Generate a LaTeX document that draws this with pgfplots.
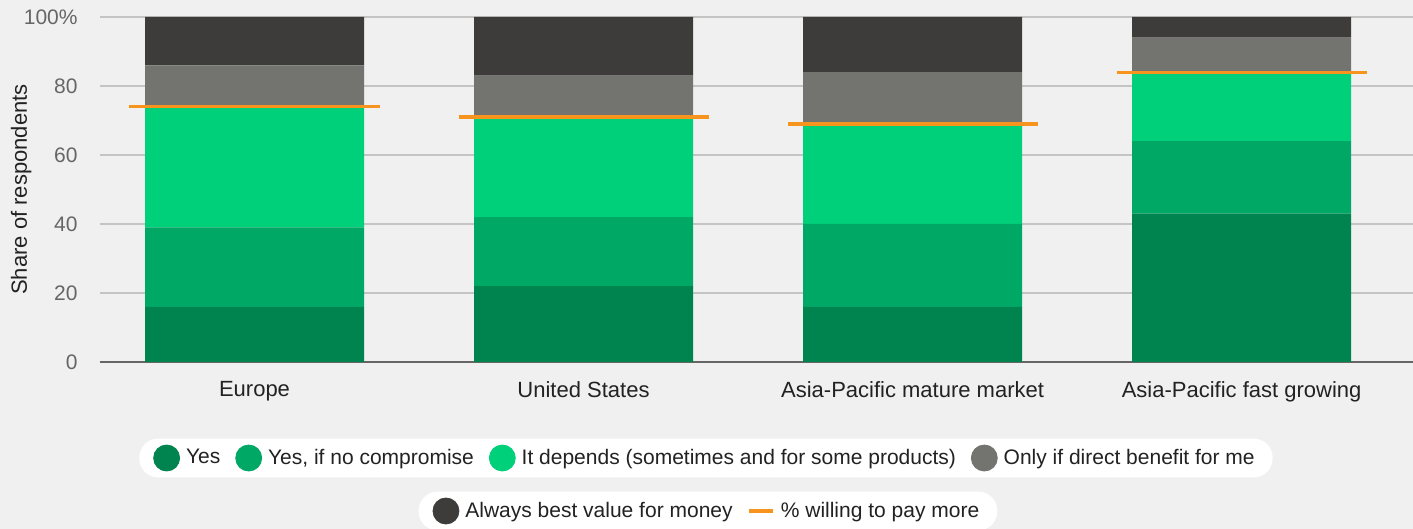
\documentclass[border=0pt]{standalone}
\usepackage{pgfplots}
\pgfplotsset{compat=1.18}
\usepackage{pgfplotstable}
\usepackage{fontspec}
\setmainfont{Liberation Sans}
\definecolor{bg}{HTML}{F0F0F0}
\definecolor{cYes}{HTML}{00844F}
\definecolor{cYesNC}{HTML}{00A866}
\definecolor{cDep}{HTML}{00D07A}
\definecolor{cOnly}{HTML}{737370}
\definecolor{cAlways}{HTML}{3D3C3A}
\definecolor{cOrange}{HTML}{F7941D}
\definecolor{cGrid}{HTML}{C4C4C4}
\definecolor{cTick}{HTML}{666666}
\definecolor{cText}{HTML}{222222}

\pgfplotstableread{
x yes yesnc dep only always
0 16 23 35 12 14
1 22 20 29 12 17
2 16 24 29 15 16
3 43 21 20 10 6
}\data

\pgfplotstableread{
x y
-0.38 74
0.38 74
0.5 nan
0.62 71
1.38 71
1.5 nan
1.62 69
2.38 69
2.5 nan
2.62 84
3.38 84
}\paydata

\pgfplotsset{
  common/.style={at={(50pt,83.5pt)}, anchor=south west, width=656.5pt, height=172.5pt,
    scale only axis, xmin=-0.4696, xmax=3.521, ymin=0, ymax=100},
  leg/.style={legend style={draw=none, fill=white, rounded corners=9.5pt, legend columns=-1,
    font=\fontsize{10.5}{12}\selectfont, text=cText, inner xsep=7pt, inner ysep=3pt, anchor=center,
    /tikz/every even column/.append style={column sep=5.5pt},
    /tikz/every odd column/.append style={column sep=1pt}}},
}

\begin{document}
\begin{tikzpicture}
\path[use as bounding box, fill=bg] (0,0) rectangle (706.5pt,264.5pt);
\begin{axis}[common, leg, ybar stacked, bar width=109.5pt,
  axis x line*=bottom, axis y line*=left,
  y axis line style={draw=none}, x axis line style={draw=cTick, line width=0.8pt},
  ymajorgrids, grid style={cGrid, line width=0.6pt},
  ytick={0,20,40,60,80,100}, yticklabels={0,20,40,60,80,100\%},
  xtick={0,1,2,3},
  xticklabels={Europe, United States, Asia-Pacific mature market, Asia-Pacific fast growing},
  major tick length=0pt, tick style={draw=none},
  yticklabel style={font=\fontsize{10.5}{12}\selectfont, text=cTick, inner sep=0pt, xshift=-11pt},
  xticklabel style={font=\fontsize{11}{13}\selectfont, text=cText, inner sep=0pt, yshift=-9.5pt},
  ylabel={Share of respondents},
  ylabel style={at={(axis description cs:-0.06,0.5)}, anchor=center, rotate=0,
    font=\fontsize{11}{13}\selectfont, text=cText},
  legend style={at={(axis description cs:0.4615,-0.2783)}},
]
\addplot[fill=cYes, draw=none, forget plot] table[x=x, y=yes]{\data};
\addplot[fill=cYesNC, draw=none, forget plot] table[x=x, y=yesnc]{\data};
\addplot[fill=cDep, draw=none, forget plot] table[x=x, y=dep]{\data};
\addplot[fill=cOnly, draw=none, forget plot] table[x=x, y=only]{\data};
\addplot[fill=cAlways, draw=none, forget plot] table[x=x, y=always]{\data};
\addlegendimage{legend image code/.code={\fill[cYes] (6.5pt,0pt) circle (6.5pt);}}
\addlegendentry{Yes}
\addlegendimage{legend image code/.code={\fill[cYesNC] (6.5pt,0pt) circle (6.5pt);}}
\addlegendentry{Yes, if no compromise}
\addlegendimage{legend image code/.code={\fill[cDep] (6.5pt,0pt) circle (6.5pt);}}
\addlegendentry{It depends (sometimes and for some products)}
\addlegendimage{legend image code/.code={\fill[cOnly] (6.5pt,0pt) circle (6.5pt);}}
\addlegendentry{Only if direct benefit for me}
\end{axis}
\begin{axis}[common, leg, hide axis,
  legend style={at={(axis description cs:0.463,-0.4319)}},
]
\addlegendimage{legend image code/.code={\fill[cAlways] (6.5pt,0pt) circle (6.5pt);}}
\addlegendentry{Always best value for money}
\addplot[cOrange, line width=1.6pt, unbounded coords=jump,
  legend image code/.code={\draw[cOrange, line width=1.6pt] (0pt,0pt) -- (12pt,0pt);}]
  table[x=x, y=y]{\paydata};
\addlegendentry{\% willing to pay more}
\end{axis}
\end{tikzpicture}
\end{document}
